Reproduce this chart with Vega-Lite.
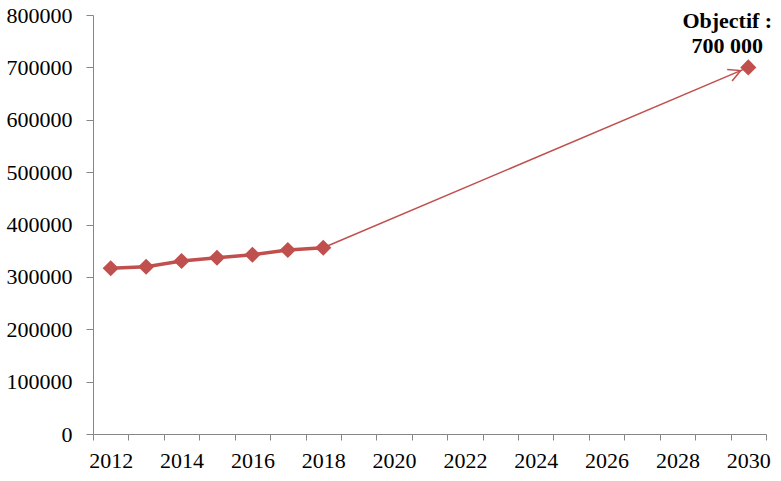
{
  "$schema": "https://vega.github.io/schema/vega-lite/v6.json",
  "width": 673,
  "height": 419,
  "autosize": "none",
  "padding": {"left": 93, "top": 15, "right": 15, "bottom": 47},
  "background": "white",
  "config": {"view": {"stroke": null}, "font": "Liberation Serif"},
  "datasets": {
    "hist": [
      {"year": 2012, "value": 316400},
      {"year": 2013, "value": 319400},
      {"year": 2014, "value": 330300},
      {"year": 2015, "value": 336600},
      {"year": 2016, "value": 342300},
      {"year": 2017, "value": 351300},
      {"year": 2018, "value": 355700}
    ],
    "target": [
      {"year": 2018, "value": 355700},
      {"year": 2030, "value": 700000}
    ],
    "goal": [
      {"year": 2030, "value": 700000, "label": ["Objectif :", "700 000"]}
    ]
  },
  "resolve": {"axis": {"x": "independent"}},
  "encoding": {
    "y": {
      "field": "value", "type": "quantitative",
      "scale": {"domain": [0, 800000], "nice": false},
      "axis": {
        "title": null, "grid": false, "format": "d",
        "values": [0,100000,200000,300000,400000,500000,600000,700000,800000],
        "domainColor": "#868686", "tickColor": "#868686", "tickSize": 7,
        "labelFont": "Liberation Serif", "labelFontSize": 22, "labelColor": "#000000",
        "labelPadding": 14
      }
    }
  },
  "layer": [
    {
      "data": {"name": "target"},
      "mark": {"type": "line", "color": "#C0504D", "strokeWidth": 1.5},
      "encoding": {
        "x": {
          "field": "year", "type": "quantitative",
          "scale": {"domain": [2011.5, 2030.5], "nice": false, "zero": false},
          "axis": {
            "orient": "bottom", "title": null, "grid": false,
            "values": [2012, 2014, 2016, 2018, 2020, 2022, 2024, 2026, 2028, 2030],
            "format": "d",
            "ticks": false, "domain": false,
            "labelFlush": false, "labelOverlap": false, "labelBound": false,
            "labelFont": "Liberation Serif", "labelFontSize": 22, "labelColor": "#000000",
            "labelPadding": 16
          }
        }
      }
    },
    {
      "data": {"name": "hist"},
      "mark": {"type": "line", "color": "#C0504D", "strokeWidth": 3.5},
      "encoding": {
        "x": {
          "field": "year", "type": "quantitative",
          "axis": {
            "orient": "bottom", "title": null, "grid": false, "labels": false,
            "values": [2011.5,2012.5,2013.5,2014.5,2015.5,2016.5,2017.5,2018.5,2019.5,2020.5,2021.5,2022.5,2023.5,2024.5,2025.5,2026.5,2027.5,2028.5,2029.5,2030.5],
            "domainColor": "#868686", "tickColor": "#868686", "tickSize": 6
          }
        }
      }
    },
    {
      "data": {"name": "hist"},
      "mark": {"type": "point", "shape": "diamond", "filled": true, "size": 260, "color": "#C0504D", "opacity": 1},
      "encoding": {"x": {"field": "year", "type": "quantitative", "axis": null}}
    },
    {
      "data": {"name": "goal"},
      "mark": {"type": "point", "shape": "diamond", "filled": true, "size": 260, "color": "#C0504D", "opacity": 1},
      "encoding": {"x": {"field": "year", "type": "quantitative", "axis": null}}
    },
    {
      "data": {"name": "goal"},
      "mark": {"type": "point", "shape": "M -1.35 -0.42 L -0.55 0 L -1.35 0.42", "filled": false, "size": 900, "angle": 337, "color": "#C0504D", "strokeWidth": 1.5, "opacity": 1},
      "encoding": {"x": {"field": "year", "type": "quantitative", "axis": null}}
    },
    {
      "data": {"name": "goal"},
      "mark": {"type": "text", "font": "Liberation Serif", "fontWeight": "bold", "fontSize": 22, "align": "center", "baseline": "alphabetic", "dx": -21, "dy": -39, "lineHeight": 25, "color": "#000000"},
      "encoding": {"x": {"field": "year", "type": "quantitative", "axis": null}, "text": {"field": "label"}}
    }
  ]
}
